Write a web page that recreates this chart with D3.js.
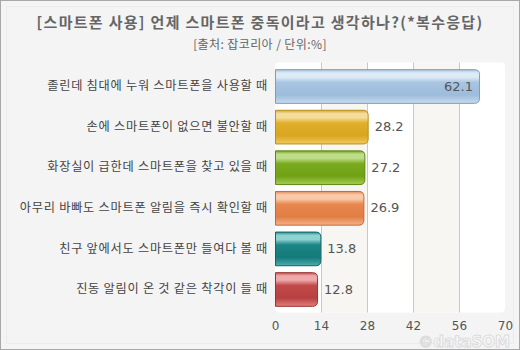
<!DOCTYPE html>
<html><head><meta charset="utf-8">
<script src="https://cdn.jsdelivr.net/npm/d3@7"></script>
<style>html,body{margin:0;padding:0;background:#fff}svg{display:block}</style>
</head><body>
<script>
const title = "[스마트폰 사용] 언제 스마트폰 중독이라고 생각하나?(*복수응답)";
const subtitle = "[출처: 잡코리아 / 단위:%]";
const categories = ["졸린데 침대에 누워 스마트폰을 사용할 때","손에 스마트폰이 없으면 불안할 때","화장실이 급한데 스마트폰을 찾고 있을 때","아무리 바빠도 스마트폰 알림을 즉시 확인할 때","친구 앞에서도 스마트폰만 들여다 볼 때","진동 알림이 온 것 같은 착각이 들 때"];
const values = [62.1, 28.2, 27.2, 26.9, 13.8, 12.8];
const ticks = [0, 14, 28, 42, 56, 70];
const palette = [
  {stroke:"#7f9cb8", top:"#a8c2dc", hi:"#deebf6", base:"#a8c5e2", low:"#9dbcdb", bot:"#c8dcf0"},
  {stroke:"#b8901a", top:"#d0a838", hi:"#f4dd9a", base:"#e0ae2a", low:"#d8a620", bot:"#f2ca5c"},
  {stroke:"#5f8a10", top:"#7aa024", hi:"#bedd8a", base:"#7aab1e", low:"#70a014", bot:"#a4ce54"},
  {stroke:"#c46838", top:"#e08a58", hi:"#f9caa9", base:"#e8874e", low:"#e07e44", bot:"#f7b28a"},
  {stroke:"#0f6666", top:"#2a8c8c", hi:"#8ed2d2", base:"#1c8585", low:"#157a7a", bot:"#4cadad"},
  {stroke:"#9a3434", top:"#c05656", hi:"#eeaaaa", base:"#c24a4a", low:"#b84040", bot:"#e27e7e"}
];

const W = 520, H = 350;
const svg = d3.select("body").append("svg").attr("width", W).attr("height", H);

svg.append("rect").attr("x",0.5).attr("y",0.5).attr("width",W-1).attr("height",H-1)
  .attr("fill","#f4f4f4").attr("stroke","#a8a8a8");
svg.append("rect").attr("x",6.5).attr("y",6.5).attr("width",W-13).attr("height",H-13)
  .attr("fill","none").attr("stroke","#ebebeb");

const x = d3.scaleLinear().domain([0,70]).range([275,505]);
const y = d3.scaleBand().domain(categories).range([62.5,312.5]).paddingInner(0.17).paddingOuter(0.164);

// plot panel
svg.append("rect").attr("x",x(0)).attr("y",62.5).attr("width",x(70)-x(0)).attr("height",250)
  .attr("rx",4).attr("fill","#ffffff");
for (let i=0;i<ticks.length-1;i++){
  if (i%2===1) svg.append("rect").attr("x",x(ticks[i])).attr("y",62.5)
     .attr("width",x(ticks[i+1])-x(ticks[i])).attr("height",250).attr("fill","#f7f6f3");
}
svg.append("g").selectAll("line").data(ticks.slice(1,-1)).join("line")
  .attr("x1",d=>Math.round(x(d))+0.5).attr("x2",d=>Math.round(x(d))+0.5)
  .attr("y1",62.5).attr("y2",312.5).attr("stroke","#c8c8c8");

// titles
svg.append("text").attr("x",260).attr("y",28).attr("text-anchor","middle")
  .attr("font-family","'Noto Sans CJK KR', sans-serif").attr("font-size",15).attr("font-weight","bold")
  .attr("letter-spacing","1.3px").attr("fill","#666").text(title);
svg.append("text").attr("x",260).attr("y",49).attr("text-anchor","middle")
  .attr("font-family","'Noto Sans CJK KR', sans-serif").attr("font-size",12)
  .attr("letter-spacing","0.4px").attr("fill","#666").text(subtitle);

// gradients
const defs = svg.append("defs");
palette.forEach((p,i)=>{
  const g = defs.append("linearGradient").attr("id","g"+i).attr("x1",0).attr("y1",0).attr("x2",0).attr("y2",1);
  [[0,p.top],[0.1,p.hi],[0.22,p.hi],[0.38,p.base],[0.75,p.low],[1,p.bot]].forEach(s=>
    g.append("stop").attr("offset",s[0]).attr("stop-color",s[1]));
});

function barPath(x0,y0,w,h,r){
  return `M${x0},${y0} H${x0+w-r} Q${x0+w},${y0} ${x0+w},${y0+r} V${y0+h-r} Q${x0+w},${y0+h} ${x0+w-r},${y0+h} H${x0} Z`;
}
const data = categories.map((c,i)=>({c, v:values[i], i}));
svg.append("g").selectAll("path").data(data).join("path")
  .attr("d",d=>barPath(x(0)+0.5, y(d.c)+0.5, x(d.v)-x(0), y.bandwidth(), 5))
  .attr("fill",d=>`url(#g${d.i})`).attr("stroke",d=>palette[d.i].stroke).attr("stroke-width",1);

// value labels
svg.append("g").selectAll("text").data(data).join("text")
  .attr("x",d=> d.v>50 ? x(d.v)-6 : x(d.v)+7)
  .attr("text-anchor",d=> d.v>50 ? "end" : "start")
  .attr("y",d=>y(d.c)+y.bandwidth()/2).attr("dy","0.36em")
  .attr("font-family","'DejaVu Sans', sans-serif").attr("font-size",13).attr("fill","#555")
  .text(d=>d.v.toFixed(1));

// category labels
svg.append("g").selectAll("text").data(data).join("text")
  .attr("x",268).attr("text-anchor","end")
  .attr("y",d=>y(d.c)+y.bandwidth()/2).attr("dy","0.35em")
  .attr("font-family","'Noto Sans CJK KR', sans-serif").attr("font-size",12.2)
  .attr("letter-spacing","0.75px").attr("fill","#444")
  .text(d=>d.c);

// x axis
const ax = svg.append("g").attr("transform","translate(0,313)")
  .call(d3.axisBottom(x).tickValues(ticks).tickSize(0).tickPadding(8));
ax.select(".domain").remove();
ax.selectAll("text").attr("font-family","'DejaVu Sans', sans-serif").attr("font-size",12).attr("fill","#555");

// watermark
svg.append("text").attr("x",510).attr("y",347).attr("text-anchor","end")
  .attr("font-family","'DejaVu Sans', sans-serif").attr("font-size",15).attr("font-weight","bold")
  .attr("fill","#f8f8f8").attr("stroke","#dcdcdc").attr("stroke-width",1).text("©dataSOM");
</script>
</body></html>
